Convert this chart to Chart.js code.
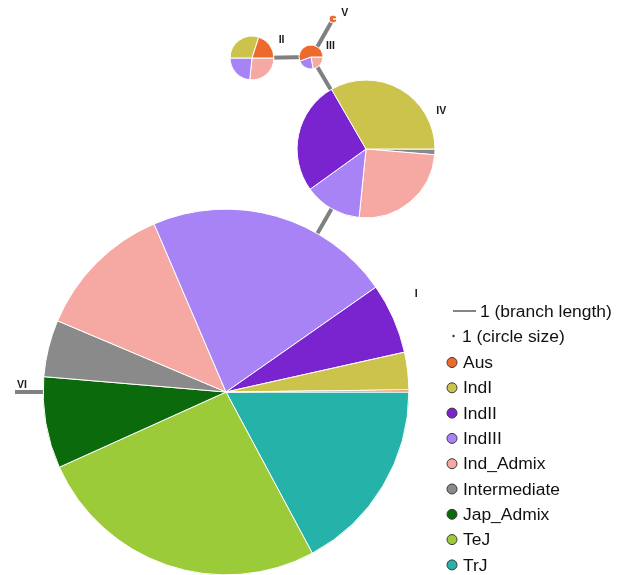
<!DOCTYPE html>
<html>
<head>
<meta charset="utf-8">
<script src="https://cdn.jsdelivr.net/npm/chart.js@4/dist/chart.umd.min.js"></script>
<style>
  html, body { margin: 0; padding: 0; background: #ffffff; }
  #wrap { position: relative; width: 628px; height: 575px; overflow: hidden; }
  #net { position: absolute; left: 0; top: 0; }
  .pie { position: absolute; }
</style>
</head>
<body>
<div id="wrap"><canvas id="net" width="628" height="575"></canvas></div>
<script>
// ---- data ----------------------------------------------------------------
const categories = ['Aus', 'IndI', 'IndII', 'IndIII', 'Ind_Admix', 'Intermediate', 'Jap_Admix', 'TeJ', 'TrJ'];

// haplotype groups and their layout position (branch-length units)
const nodeNames = ['I', 'II', 'III', 'IV', 'V', 'VI'];
const nodeX = [9.83, 10.96, 13.54, 15.91, 14.48, 0.65];
const nodeY = [7.96, 22.48, 22.52, 18.52, 24.17, 7.96];

// accessions per category in each haplotype group (same order as categories)
const countsI   = [4, 69, 130, 454, 255, 105, 169, 545, 359];
const countsII  = [6, 9, 0, 7, 8, 0, 0, 0, 0];
const countsIII = [5, 0, 0, 2, 2, 0, 0, 0, 0];
const countsIV  = [0, 99, 79, 40, 75, 4, 0, 0, 0];
const countsV   = [1, 0, 0, 0, 0, 0, 0, 0, 0];
const countsVI  = [0, 0, 0, 0, 0, 0, 0, 0, 0];
const nodeCounts = [countsI, countsII, countsIII, countsIV, countsV, countsVI];

// network branches
const branchFrom = ['IV', 'II', 'III', 'III', 'I'];
const branchTo   = ['I', 'III', 'IV', 'V', 'VI'];

// ---- styles --------------------------------------------------------------
const colours = ['#EC6A2C', '#CBC34B', '#7A24CF', '#A783F6', '#F6A9A3', '#8A8A8A', '#0B6A0C', '#9CCB3A', '#24B2A9'];
const PX_PER_SQRT = 4;            // circle radius per sqrt(count)
const labelOffset = {              // node label placement, px from node centre
  'I':  [190, -97.5], 'II': [29.5, -18], 'III': [19, -10.5],
  'IV': [75.3, -38.3], 'V': [11.7, -6.3], 'VI': [7, -6.5]
};
const FONT = '"Liberation Sans", Arial, Helvetica, sans-serif';

function idx(name) { return nodeNames.indexOf(name); }

// ---- branch layer ---------------------------------------------------------
const branchSets = branchFrom.map((f, b) => {
  const a = idx(f), c = idx(branchTo[b]);
  return {
    type: 'line',
    data: [{ x: nodeX[a], y: nodeY[a] }, { x: nodeX[c], y: nodeY[c] }],
    borderColor: '#808080',
    borderWidth: 4,
    borderCapStyle: 'butt',
    pointRadius: 0,
    tension: 0
  };
});

function stretchedText(ctx, text, x, y, size, sx) {
  ctx.save();
  ctx.translate(x, y);
  ctx.scale(sx, 1);
  ctx.font = size + 'px ' + FONT;
  ctx.fillText(text, 0, 0);
  ctx.restore();
}

const annotations = {
  id: 'annotations',
  afterDraw(chart) {
    const ctx = chart.ctx;
    const xs = chart.scales.x, ys = chart.scales.y;
    ctx.save();
    // node labels
    ctx.fillStyle = '#1a1a1a';
    ctx.font = 'bold 10.5px ' + FONT;
    ctx.textAlign = 'center';
    ctx.textBaseline = 'middle';
    nodeNames.forEach((n, i) => {
      const px = xs.getPixelForValue(nodeX[i]) + labelOffset[n][0];
      const py = ys.getPixelForValue(nodeY[i]) + labelOffset[n][1];
      ctx.fillText(n, px, py);
    });

    // legend
    const lx = 453, unit = xs.getPixelForValue(1) - xs.getPixelForValue(0);
    ctx.textAlign = 'left';
    ctx.textBaseline = 'alphabetic';
    ctx.strokeStyle = '#333333';
    ctx.lineWidth = 1.2;
    ctx.beginPath();
    ctx.moveTo(lx, 311); ctx.lineTo(lx + unit, 311);
    ctx.stroke();
    ctx.fillStyle = '#111111';
    stretchedText(ctx, '1 (branch length)', 480, 316.8, 16, 1.09);

    ctx.beginPath();
    ctx.arc(lx + 0.5, 336, 1.2, 0, Math.PI * 2);
    ctx.fillStyle = '#333333';
    ctx.fill();
    ctx.fillStyle = '#111111';
    stretchedText(ctx, '1 (circle size)', 462, 341.8, 16, 1.09);

    categories.forEach((c, i) => {
      const cy = 362.5 + i * 25.3;
      ctx.beginPath();
      ctx.arc(452, cy, 5, 0, Math.PI * 2);
      ctx.fillStyle = colours[i];
      ctx.fill();
      ctx.lineWidth = 1;
      ctx.strokeStyle = '#3a3a3a';
      ctx.stroke();
      ctx.fillStyle = '#111111';
      stretchedText(ctx, c, 463, cy + 5.6, 16, 1.09);
    });
    ctx.restore();
  }
};

const net = new Chart(document.getElementById('net'), {
  type: 'scatter',
  data: { datasets: branchSets },
  options: {
    responsive: false,
    animation: false,
    events: [],
    layout: { padding: 0 },
    scales: {
      x: { type: 'linear', min: 0, max: 27.3, display: false },
      y: { type: 'linear', min: 0, max: 25, display: false }
    },
    plugins: { legend: { display: false }, tooltip: { enabled: false } }
  },
  plugins: [annotations]
});

// ---- pie nodes --------------------------------------------------------------
const wrap = document.getElementById('wrap');
nodeNames.forEach((n, i) => {
  const counts = nodeCounts[i];
  const total = counts.reduce((s, v) => s + v, 0);
  if (total === 0) return;
  // slices run clockwise from 3 o'clock in reverse category order
  const labels = [], values = [], fills = [];
  for (let k = categories.length - 1; k >= 0; k--) {
    if (counts[k] > 0) { labels.push(categories[k]); values.push(counts[k]); fills.push(colours[k]); }
  }
  const r = PX_PER_SQRT * Math.sqrt(total);
  const size = Math.ceil(r) * 2 + 6;
  const cx = net.scales.x.getPixelForValue(nodeX[i]);
  const cy = net.scales.y.getPixelForValue(nodeY[i]);
  const cv = document.createElement('canvas');
  cv.className = 'pie';
  cv.width = size; cv.height = size;
  cv.style.left = Math.round(cx - size / 2) + 'px';
  cv.style.top = Math.round(cy - size / 2) + 'px';
  wrap.appendChild(cv);
  new Chart(cv, {
    type: 'pie',
    data: {
      labels: labels,
      datasets: [{ data: values, backgroundColor: fills, borderColor: '#ffffff', borderWidth: 1 }]
    },
    options: {
      responsive: false,
      animation: false,
      events: [],
      rotation: 90,
      radius: r,
      layout: { padding: 0 },
      plugins: { legend: { display: false }, tooltip: { enabled: false } }
    }
  });
});
</script>
</body>
</html>
